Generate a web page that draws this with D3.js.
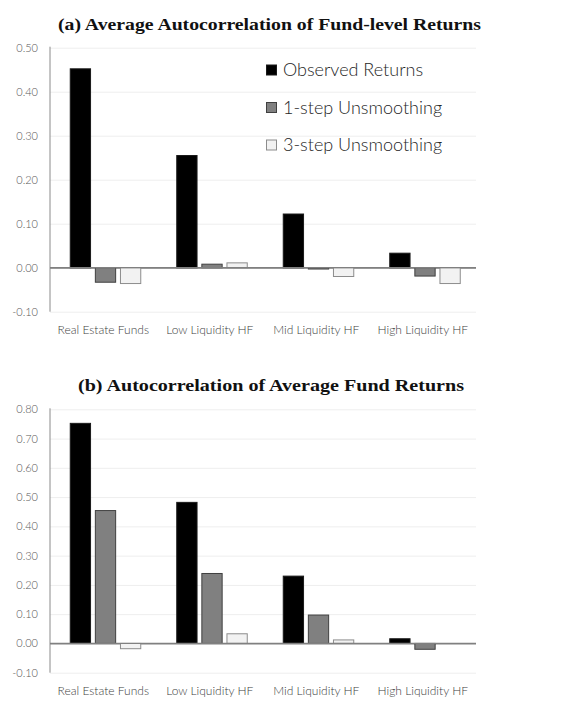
<!DOCTYPE html>
<html>
<head>
<meta charset="utf-8">
<script src="https://cdn.jsdelivr.net/npm/d3@7"></script>
<style>
  html, body { margin: 0; padding: 0; background: #fff; }
  svg { display: block; }
</style>
</head>
<body>
<svg id="chart" width="561" height="709"></svg>
<script>
// ---- data ----
const categories = ["Real Estate Funds", "Low Liquidity HF", "Mid Liquidity HF", "High Liquidity HF"];
const seriesNames = ["Observed Returns", "1-step Unsmoothing", "3-step Unsmoothing"];

// Panel (a): Average Autocorrelation of Fund-level Returns
const panelA_observed = [0.452, 0.255, 0.122, 0.033];
const panelA_step1    = [-0.033, 0.008, -0.003, -0.019];
const panelA_step3    = [-0.036, 0.011, -0.020, -0.036];
const panelA_ticks    = [-0.10, 0.00, 0.10, 0.20, 0.30, 0.40, 0.50];

// Panel (b): Autocorrelation of Average Fund Returns
const panelB_observed = [0.752, 0.482, 0.230, 0.016];
const panelB_step1    = [0.454, 0.239, 0.097, -0.020];
const panelB_step3    = [-0.018, 0.033, 0.012, 0.000];
const panelB_ticks    = [-0.10, 0.00, 0.10, 0.20, 0.30, 0.40, 0.50, 0.60, 0.70, 0.80];

const titles = ["(a) Average Autocorrelation of Fund-level Returns",
                "(b) Autocorrelation of Average Fund Returns"];

// ---- styles ----
const fills   = ["#000000", "#808080", "#f2f2f2"];
const strokes = ["#1a1a1a", "#404040", "#8c8c8c"];
const sans = "Lato, 'Open Sans', sans-serif";

const svg = d3.select("#chart");
const left = 50, right = 476;

const x0 = d3.scaleBand().domain(categories).range([left, right]).paddingInner(0).paddingOuter(0);
const barW = 19, barStep = 23.5;
const x1 = d3.scaleBand().domain(seriesNames).range([0, barStep * 3]).paddingInner((barStep - barW) / barStep).paddingOuter(0);

const fmt = v => d3.format(".2f")(v).replace("\u2212", "-");

function panel(opts) {
  const { values, ticks, domain, yRange, title, titleY, titleX, titleW, legend } = opts;
  const g = svg.append("g");
  const y = d3.scaleLinear().domain(domain).range(yRange);

  // title
  g.append("text")
    .attr("x", titleX).attr("y", titleY)
    .attr("textLength", titleW).attr("lengthAdjust", "spacingAndGlyphs")
    .style("font-family", "'Liberation Serif', 'Times New Roman', serif")
    .style("font-weight", "bold").style("font-size", "17px").style("fill", "#111")
    .text(title);

  // y axis w/ gridlines
  const yAxis = d3.axisLeft(y).tickValues(ticks).tickFormat(fmt)
    .tickSize(-(right - left)).tickPadding(12);
  const ga = g.append("g").attr("transform", `translate(${left},0)`).call(yAxis);
  ga.select(".domain").remove();
  ga.selectAll(".tick line").attr("stroke", d => d === 0 ? "#808080" : "#eeeeee")
    .attr("stroke-width", d => d === 0 ? 1.3 : 1);
  ga.selectAll(".tick text").style("font-family", sans).style("font-size", "11px")
    .style("font-weight", 300).style("fill", "#595959");

  // left axis line
  g.append("line").attr("x1", left).attr("x2", left)
    .attr("y1", y(domain[1]) - 1).attr("y2", y(domain[0]))
    .attr("stroke", "#8a8a8a").attr("stroke-width", 1);

  // bars
  const rows = categories.map((c, i) => ({ cat: c, vals: values.map((s, j) => ({ s: seriesNames[j], j, v: s[i] })) }));
  const groups = g.selectAll("g.grp").data(rows).enter().append("g")
    .attr("class", "grp")
    .attr("transform", d => `translate(${x0(d.cat) + (x0.bandwidth() - barStep * 3 + (barStep - barW)) / 2},0)`);
  groups.selectAll("rect").data(d => d.vals.filter(e => e.v !== 0)).enter().append("rect")
    .attr("x", d => x1(d.s))
    .attr("width", x1.bandwidth())
    .attr("y", d => y(Math.max(0, d.v)))
    .attr("height", d => Math.abs(y(d.v) - y(0)))
    .attr("fill", d => fills[d.j])
    .attr("stroke", d => strokes[d.j])
    .attr("stroke-width", 1);

  // redraw zero line over bars
  g.append("line").attr("x1", left).attr("x2", right).attr("y1", y(0)).attr("y2", y(0))
    .attr("stroke", "#808080").attr("stroke-width", 1.3);

  // category axis
  const xAxis = d3.axisBottom(x0).tickSize(0).tickPadding(14);
  const gx = g.append("g").attr("transform", `translate(0,${y(domain[0])})`).call(xAxis);
  gx.select(".domain").remove();
  gx.selectAll(".tick text").style("font-family", sans).style("font-size", "12px")
    .style("font-weight", 300).style("fill", "#404040");

  if (legend) {
    const lg = g.append("g");
    const ly = [70, 107.5, 145];
    seriesNames.forEach((s, j) => {
      lg.append("rect").attr("x", 266.5).attr("y", ly[j] - 5).attr("width", 10).attr("height", 10)
        .attr("fill", fills[j]).attr("stroke", strokes[j]).attr("stroke-width", 1);
      lg.append("text").attr("x", 283).attr("y", ly[j]).attr("dy", "0.35em")
        .style("font-family", sans).style("font-size", "18px").style("font-weight", 300)
        .style("fill", "#262626")
        .text(s);
    });
  }
}

panel({
  values: [panelA_observed, panelA_step1, panelA_step3],
  ticks: panelA_ticks, domain: [-0.10, 0.50], yRange: [311.7, 47.7],
  title: titles[0], titleY: 30, titleX: 58, titleW: 423, legend: true
});
panel({
  values: [panelB_observed, panelB_step1, panelB_step3],
  ticks: panelB_ticks, domain: [-0.10, 0.80], yRange: [672.7, 409.3],
  title: titles[1], titleY: 391, titleX: 78, titleW: 386, legend: false
});
</script>
</body>
</html>
